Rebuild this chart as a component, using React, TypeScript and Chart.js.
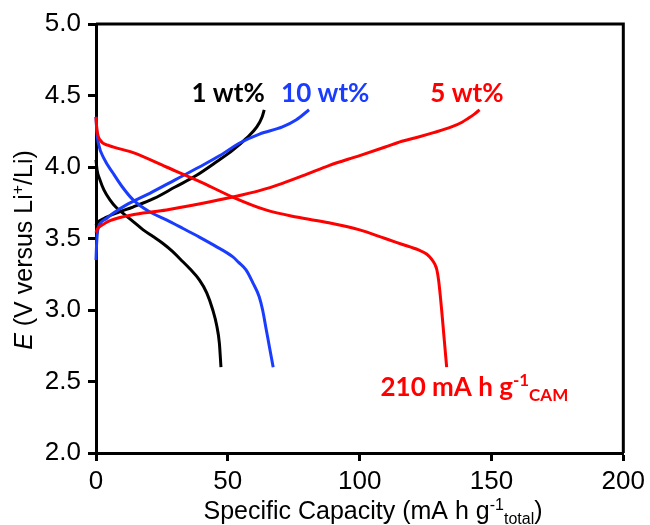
import React, { useEffect, useRef } from "react";
import { Chart, registerables } from "chart.js";

Chart.register(...registerables);

// ---- data ----
const blackChargeX = [0, 0.5, 3, 8, 14, 22, 30, 38, 46, 52, 57, 61, 63, 63.8];
const blackChargeY = [3.59, 3.61, 3.64, 3.68, 3.72, 3.78, 3.86, 3.94, 4.04, 4.12, 4.2, 4.28, 4.35, 4.4];
const blackDischargeX = [0, 0.4, 1.5, 3, 5.3, 7.5, 10.3, 14, 17.9, 21.5, 25.4, 29, 32, 35.5, 39.2, 42, 44.3, 45.8, 46.8, 47.4];
const blackDischargeY = [4.05, 3.98, 3.91, 3.84, 3.77, 3.72, 3.676, 3.62, 3.56, 3.515, 3.465, 3.41, 3.355, 3.29, 3.21, 3.12, 3.0, 2.89, 2.767, 2.6];

const blueChargeX = [0, 0.2, 0.6, 1.5, 4, 6.5, 12, 20.4, 30, 39.2, 47, 54.3, 62, 70.7, 76, 80.8];
const blueChargeY = [3.35, 3.45, 3.55, 3.6, 3.64, 3.676, 3.74, 3.816, 3.91, 4.0, 4.08, 4.166, 4.23, 4.28, 4.33, 4.4];
const blueDischargeX = [0, 0.3, 0.9, 3, 6.5, 10, 14.1, 20, 26.7, 33, 39.2, 45, 51.8, 54, 56.9, 59.5, 61.9, 63.2, 64.4, 65.8, 67.2];
const blueDischargeY = [4.35, 4.25, 4.166, 4.06, 3.956, 3.86, 3.77, 3.69, 3.63, 3.57, 3.51, 3.45, 3.373, 3.335, 3.28, 3.19, 3.093, 3.0, 2.88, 2.74, 2.6];

const redChargeX = [0, 0.5, 2, 5.3, 15, 26.7, 40, 51.8, 62, 70.7, 80, 88.3, 100, 109.7, 116, 122.3, 128, 134.8, 139, 141.1, 143.5, 145.5];
const redChargeY = [3.54, 3.565, 3.59, 3.625, 3.67, 3.7, 3.745, 3.79, 3.835, 3.886, 3.95, 4.01, 4.08, 4.14, 4.18, 4.21, 4.24, 4.28, 4.315, 4.34, 4.37, 4.4];
const redDischargeX = [0, 0.3, 1.5, 5, 14.1, 26.7, 39.2, 51.8, 64.4, 76, 88.3, 100, 109.7, 116, 122.3, 125.5, 127.3, 128.5, 129.3, 130, 131.1, 132, 133];
const redDischargeY = [4.35, 4.27, 4.19, 4.15, 4.1, 4.0, 3.9, 3.79, 3.7, 3.65, 3.61, 3.56, 3.5, 3.46, 3.42, 3.39, 3.355, 3.32, 3.28, 3.2, 3.0, 2.81, 2.6];

const xTicks = [0, 50, 100, 150, 200];
const yTicks = [2.0, 2.5, 3.0, 3.5, 4.0, 4.5, 5.0];

const BLACK = "#000000";
const BLUE = "#1a3cff";
const RED = "#ff0000";

// annotation anchors in data coordinates (left x, baseline y)
const labels = [
  { text: "1 wt%", x: 36.2, y: 4.455, color: BLACK },
  { text: "10 wt%", x: 70.2, y: 4.455, color: BLUE },
  { text: "5 wt%", x: 126.8, y: 4.455, color: RED },
];
const capLabel = { main: "210 mA h g", sup: "-1", sub: "CAM", x: 107.9, y: 2.399, color: RED };

const zip = (xs: number[], ys: number[]) => xs.map((x, i) => ({ x, y: ys[i] }));

type Seg = { t: string; mode?: "sup" | "sub"; italic?: boolean };

function drawRich(ctx: CanvasRenderingContext2D, segs: Seg[], x: number, y: number, size: number, family: string, weight: string, align: "left" | "center") {
  const fontFor = (s: Seg) => {
    const sz = s.mode ? Math.round(size * 0.65) : size;
    return `${s.italic ? "italic " : ""}${weight} ${sz}px ${family}`;
  };
  let total = 0;
  for (const s of segs) {
    ctx.font = fontFor(s);
    total += ctx.measureText(s.t).width;
  }
  let cx = align === "center" ? x - total / 2 : x;
  ctx.textAlign = "left";
  ctx.textBaseline = "alphabetic";
  for (const s of segs) {
    ctx.font = fontFor(s);
    const dy = s.mode === "sup" ? -size * 0.38 : s.mode === "sub" ? size * 0.2 : 0;
    ctx.fillText(s.t, cx, y + dy);
    cx += ctx.measureText(s.t).width;
  }
}

const annotPlugin = {
  id: "annot",
  afterDraw(chart: any) {
    const ctx = chart.ctx as CanvasRenderingContext2D;
    const { chartArea, scales } = chart;
    ctx.save();
    // top & right frame
    ctx.strokeStyle = BLACK;
    ctx.lineWidth = 3;
    ctx.beginPath();
    ctx.moveTo(chartArea.left, chartArea.top);
    ctx.lineTo(chartArea.right, chartArea.top);
    ctx.lineTo(chartArea.right, chartArea.bottom);
    ctx.stroke();

    const fam = "Lato, 'Open Sans', sans-serif";
    for (const l of labels) {
      ctx.fillStyle = l.color;
      drawRich(ctx, [{ t: l.text }], scales.x.getPixelForValue(l.x), scales.y.getPixelForValue(l.y), 26, fam, "bold", "left");
    }
    ctx.fillStyle = capLabel.color;
    drawRich(
      ctx,
      [{ t: capLabel.main }, { t: capLabel.sup, mode: "sup" }, { t: capLabel.sub, mode: "sub" }],
      scales.x.getPixelForValue(capLabel.x),
      scales.y.getPixelForValue(capLabel.y),
      26,
      fam,
      "bold",
      "left"
    );

    // axis titles
    ctx.fillStyle = BLACK;
    const tf = "'Liberation Sans', Arial, sans-serif";
    drawRich(
      ctx,
      [{ t: "Specific Capacity (mA h g" }, { t: "-1", mode: "sup" }, { t: "total", mode: "sub" }, { t: ")" }],
      373,
      519,
      25,
      tf,
      "normal",
      "center"
    );
    ctx.save();
    ctx.translate(32, 250);
    ctx.rotate(-Math.PI / 2);
    drawRich(
      ctx,
      [{ t: "E", italic: true }, { t: " (V versus Li" }, { t: "+", mode: "sup" }, { t: "/Li)" }],
      0,
      0,
      25,
      tf,
      "normal",
      "center"
    );
    ctx.restore();
    ctx.restore();
  },
};

export default function App() {
  const ref = useRef<HTMLCanvasElement>(null);
  useEffect(() => {
    if (!ref.current) return;
    const mk = (xs: number[], ys: number[], color: string) => ({
      data: zip(xs, ys),
      borderColor: color,
      backgroundColor: color,
      borderWidth: 3,
      pointRadius: 0,
      showLine: true,
      cubicInterpolationMode: "monotone",
      clip: false as any,
      fill: false,
    });
    const tickFont = { family: "'Liberation Sans', Arial, sans-serif", size: 26 };
    const chart = new Chart(ref.current, {
      type: "scatter",
      data: {
        datasets: [
          mk(redChargeX, redChargeY, RED),
          mk(redDischargeX, redDischargeY, RED),
          mk(blueChargeX, blueChargeY, BLUE),
          mk(blueDischargeX, blueDischargeY, BLUE),
          mk(blackChargeX, blackChargeY, BLACK),
          mk(blackDischargeX, blackDischargeY, BLACK),
        ],
      },
      options: {
        animation: false,
        responsive: false,
        layout: { padding: { top: 24, right: 24, left: 0, bottom: 0 } },
        plugins: { legend: { display: false }, tooltip: { enabled: false } },
        scales: {
          x: {
            type: "linear",
            min: 0,
            max: 200,
            afterBuildTicks: (s: any) => {
              s.ticks = xTicks.map((v) => ({ value: v }));
            },
            ticks: { font: tickFont, color: BLACK, padding: 5, maxRotation: 0, autoSkip: false },
            grid: { drawOnChartArea: false, drawTicks: true, tickLength: 8, tickWidth: 3, tickColor: BLACK },
            border: { display: true, color: BLACK, width: 3 },
            afterFit: (s: any) => {
              s.height = 72;
            },
          },
          y: {
            type: "linear",
            min: 2,
            max: 5,
            afterBuildTicks: (s: any) => {
              s.ticks = yTicks.map((v) => ({ value: v }));
            },
            ticks: {
              font: tickFont,
              color: BLACK,
              padding: 7,
              autoSkip: false,
              callback: (v: any) => Number(v).toFixed(1),
            },
            grid: { drawOnChartArea: false, drawTicks: true, tickLength: 8, tickWidth: 3, tickColor: BLACK },
            border: { display: true, color: BLACK, width: 3 },
            afterFit: (s: any) => {
              s.width = 96;
            },
          },
        },
      } as any,
      plugins: [annotPlugin],
    });
    return () => chart.destroy();
  }, []);
  return (
    <div style={{ position: "fixed", left: 0, top: 0, width: 650, height: 525, background: "#fff" }}>
      <canvas ref={ref} width={650} height={525} style={{ display: "block" }} />
    </div>
  );
}
